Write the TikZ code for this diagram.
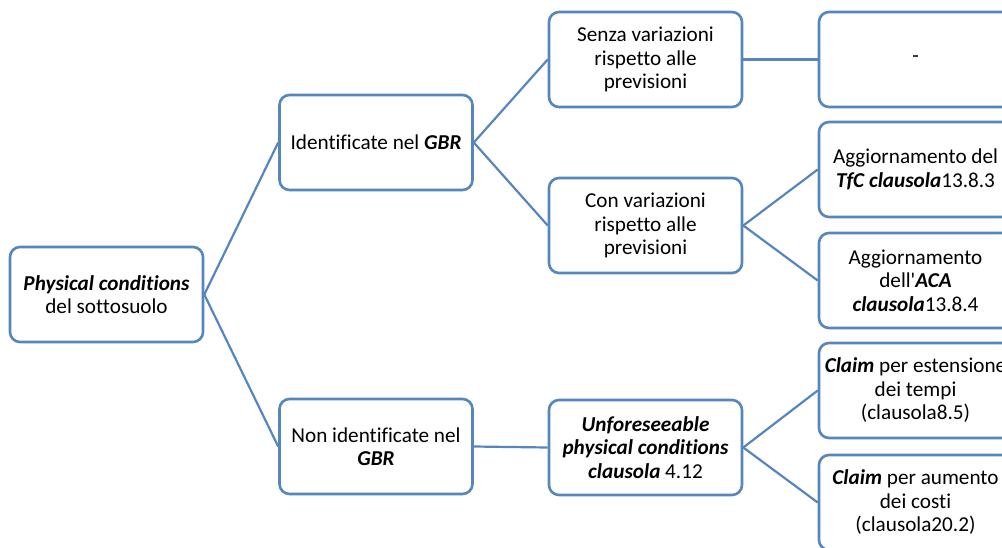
\documentclass[tikz,border=0pt]{standalone}
\usepackage{fontspec}
\setmainfont{Carlito}[Ligatures={NoCommon,TeXOff}]
\begin{document}
\begin{tikzpicture}[x=1pt,y=-1pt,
  box/.style={draw=boxblue, line width=2.6pt, rounded corners=10pt, fill=white,
    minimum width=193pt, minimum height=95pt, align=center, inner sep=2pt,
    font=\fontsize{21.2}{23.5}\selectfont},
  link/.style={draw=boxblue, line width=2.2pt}]
\definecolor{boxblue}{HTML}{5586C0}
\useasboundingbox (0,0) rectangle (1002,547);
\clip (0,0) rectangle (1002,547);

\node[box] (root) at (106.5,294.5) {\textbf{\textit{Physical conditions}}\\del sottosuolo};
\node[box] (idgbr) at (376,142.5) {Identificate nel \textbf{\textit{GBR}}};
\node[box] (nongbr) at (376,446.5) {Non identificate nel\\\textbf{\textit{GBR}}};
\node[box] (senza) at (645.5,59.5) {Senza variazioni\\rispetto alle\\previsioni};
\node[box] (con) at (645.5,225.5) {Con variazioni\\rispetto alle\\previsioni};
\node[box] (unf) at (645.5,447.5) {\textbf{\textit{Unforeseeable}}\\\textbf{\textit{physical conditions}}\\\textbf{\textit{clausola}} 4.12};
\node[box] (dash) at (915.5,59.5) {-};
\node[box] (tfc) at (915.5,169.5) {Aggiornamento del\\\textbf{\textit{TfC clausola}}13.8.3};
\node[box] (aca) at (915.5,280.5) {Aggiornamento\\dell'\textbf{\textit{ACA}}\\\textbf{\textit{clausola}}13.8.4};
\node[box] (tempi) at (915.5,390.5) {\textbf{\textit{Claim}} per estensione\\dei tempi\\(clausola8.5)};
\node[box] (costi) at (915.5,502.5) {\textbf{\textit{Claim}} per aumento\\dei costi\\(clausola20.2)};

\draw[link] (root.east) -- (idgbr.west);
\draw[link] (root.east) -- (nongbr.west);
\draw[link] (idgbr.east) -- (senza.west);
\draw[link] (idgbr.east) -- (con.west);
\draw[link] (nongbr.east) -- (unf.west);
\draw[link] (senza.east) -- (dash.west);
\draw[link] (con.east) -- (tfc.west);
\draw[link] (con.east) -- (aca.west);
\draw[link] (unf.east) -- (tempi.west);
\draw[link] (unf.east) -- (costi.west);
\end{tikzpicture}
\end{document}
